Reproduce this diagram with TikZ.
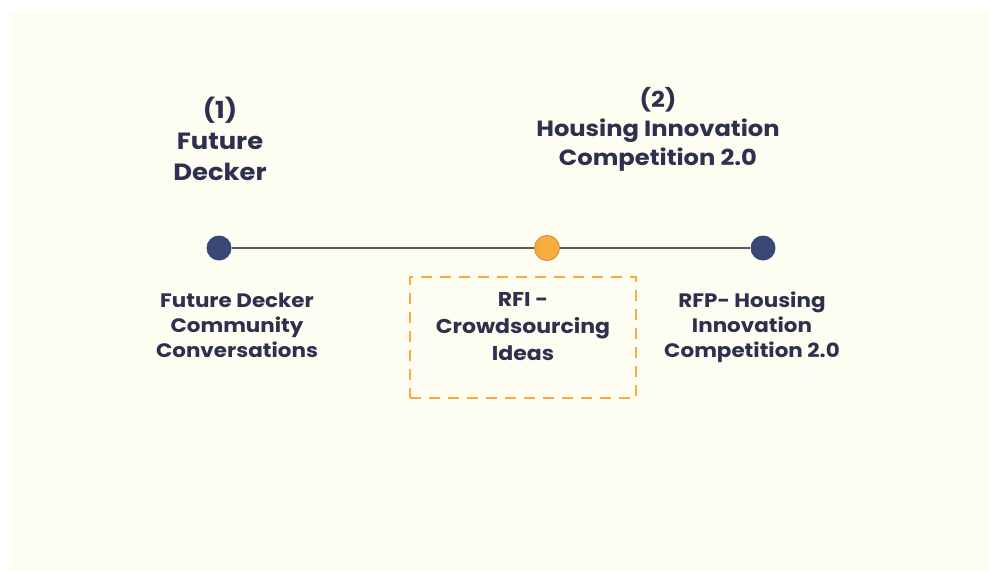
\documentclass[tikz,border=0pt]{standalone}
\usepackage{fontspec}
\setmainfont{Poppins}[FakeStretch=1.1]
\definecolor{cream}{HTML}{FDFDF2}
\definecolor{inknavy}{HTML}{2E3050}
\definecolor{dotnavy}{HTML}{3A4878}
\definecolor{amber}{HTML}{F6AC3E}

\begin{document}
\begin{tikzpicture}[x=1pt, y=-1pt,
    dot/.style={circle, minimum size=25pt, inner sep=0pt},
    headtext/.style={text=inknavy, align=center, inner sep=0pt},
    subtext/.style={text=inknavy, align=center, inner sep=0pt,
        font=\fontsize{19.5}{25}\selectfont\bfseries}]
        \useasboundingbox (0,0) rectangle (989,571);
        \fill[white] (0,0) rectangle (989,571);
        \fill[cream] (10,11) rectangle (989,571);

        % milestones
        \node[dot, fill=dotnavy] (m1) at (219,248) {};
        \node[dot, fill=amber, draw=amber!80!black, line width=0.8pt] (m2) at (547,248) {};
        \node[dot, fill=dotnavy] (m3) at (763,248) {};

        \draw[gray!70!black, line width=1.3pt] (m1) -- (m2);
        \draw[gray!70!black, line width=1.3pt] (m2) -- (m3);

        % headings
        \node[headtext, font=\fontsize{23.5}{31}\selectfont\bfseries] (h1) at (220,139)
            {(1)\\Future\\Decker};
        \node[headtext, font=\fontsize{22}{29}\selectfont\bfseries] (h2) at (658,129)
            {(2)\\Housing Innovation\\Competition 2.0};

        % steps below the line
        \node[subtext] (s1) at (237,325) {Future Decker\\Community\\Conversations};
        \node[draw=amber, line width=2.6pt, dash pattern=on 11pt off 8pt,
              minimum width=226pt, minimum height=121pt] (rfi) at (523,337.5) {};
        \node[subtext, font=\fontsize{20}{27}\selectfont\bfseries] (s2) at (523,327)
            {RFI -\\Crowdsourcing\\Ideas};
        \node[subtext] (s3) at (752,327) {RFP- Housing\\Innovation\\Competition 2.0};
\end{tikzpicture}
\end{document}
